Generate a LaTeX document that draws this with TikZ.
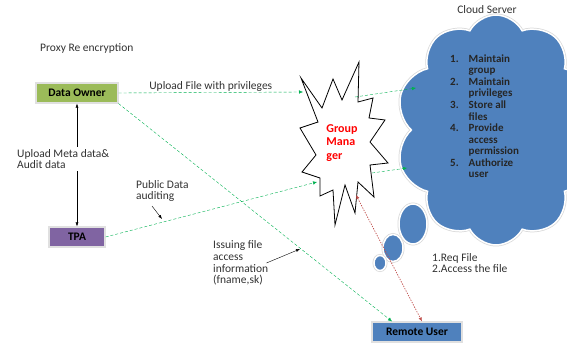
\documentclass[tikz,border=0pt]{standalone}
\usepackage{fontspec}
\setmainfont{Carlito}
\usetikzlibrary{arrows.meta, positioning, shapes.symbols, shapes.geometric, shadows}
\definecolor{ownergreen}{RGB}{155,187,89}
\definecolor{tpapurple}{RGB}{128,100,162}
\definecolor{officeblue}{RGB}{79,129,189}
\definecolor{flowgreen}{RGB}{0,176,80}
\definecolor{reqred}{RGB}{192,80,77}
\definecolor{notegray}{RGB}{50,50,50}

\begin{document}
\begin{tikzpicture}[x=1pt, y=-1pt,
    every node/.style={font=\fontsize{11.5}{11.7}\selectfont, text=notegray},
    actor/.style={draw=black!12, line width=1.2pt, minimum height=20pt, inner sep=0pt,
                  font=\fontsize{11.5}{12}\selectfont\bfseries, text=black,
                  drop shadow={shadow xshift=1pt, shadow yshift=-1pt, fill=black!15}},
    note/.style={align=left, anchor=west, inner sep=0pt},
    flow/.style={draw=flowgreen, dash pattern=on 3pt off 2pt, -{Latex[length=4pt,width=3.5pt]}},
    request/.style={draw=reqred, line width=0.7pt, dash pattern=on 1.3pt off 1.3pt,
                    {Latex[length=4pt,width=3.5pt]}-{Latex[length=4pt,width=3.5pt]}},
    pointer/.style={draw=black, -{Latex[length=4pt,width=3pt]}},
    bubble/.style={ellipse, fill=officeblue, draw=white, line width=1.5pt,
                   preaction={draw=black!15, line width=3pt}, inner sep=0pt}
]
    \useasboundingbox (0,0) rectangle (567,344);

    % cloud server
    \node[cloud, cloud puffs=10, cloud puff arc=125, fill=officeblue, draw=white, line width=1.5pt,
          preaction={draw=black!15, line width=3pt}, minimum width=200pt, minimum height=230pt]
          (server) at (496,130) {};
    \node[bubble, minimum width=28pt, minimum height=40pt] (bubbleA) at (413,224) {};
    \node[bubble, minimum width=20pt, minimum height=27pt] (bubbleB) at (393,248) {};
    \node[bubble, minimum width=12pt, minimum height=15pt] (bubbleC) at (380,263) {};
    \node[anchor=north west, inner sep=0pt, font=\fontsize{11}{11.55}\selectfont\bfseries, text=black!85]
          (srvlist) at (450,54) {\begin{tabular}{@{}l@{\hspace{10pt}}l@{}}
            1. & Maintain\\ & group\\
            2. & Maintain\\ & privileges\\
            3. & Store all\\ & files\\
            4. & Provide\\ & access\\ & permission\\
            5. & Authorize\\ & user
          \end{tabular}};
    \node (srvname) at (487,10) {Cloud Server};

    % group manager
    \draw[black, line width=0.8pt, fill=white] (301,78) -- (322,108) -- (333,79) -- (342,100)
        -- (359,62) -- (358,102) -- (373,98) -- (369,118) -- (385,120) -- (370,142)
        -- (388,163) -- (370,165) -- (374,197) -- (358,182) -- (355,213) -- (345,185)
        -- (335,225) -- (333,190) -- (320,196) -- (320,178) -- (302,172) -- (316,155)
        -- (300,128) -- (318,122) -- cycle;
    \node[align=left, font=\fontsize{12}{13.5}\selectfont\bfseries, text=red] (gm) at (342,143) {Group\\Mana\\ger};
    \coordinate (gmW) at (303,92);
    \coordinate (gmNE) at (355,97);
    \coordinate (gmSW) at (317,182);
    \coordinate (gmSE) at (372,173);
    \coordinate (gmS) at (356,195);
    \coordinate (srvW) at (416,88);
    \coordinate (srvSW) at (407,168);

    % actors
    \node[actor, fill=ownergreen, minimum width=82pt] (owner) at (77,93) {Data Owner};
    \node[actor, fill=tpapurple, minimum width=56pt] (tpa) at (77,237) {TPA};
    \node[actor, fill=officeblue, minimum width=90pt] (remote) at (417,332) {Remote User};

    \node[note] (proxy) at (40,48) {Proxy Re encryption};

    % flows
    \draw[flow] (owner.east) -- (gmW) node[midway, above=1pt, inner sep=0pt] (uploadlbl) {Upload File with privileges};
    \draw[flow] (gmNE) -- (srvW);
    \draw[flow] (tpa.east) -- (gmSW);
    \draw[flow] (gmSE) -- (srvSW);
    \draw[flow] (owner.south east) -- ([xshift=-25pt]remote.north);
    \draw[request] (gmS) -- ([xshift=5pt]remote.north);

    \draw[{Latex[length=4pt,width=3pt]}-{Latex[length=4pt,width=3pt]}] (owner) -- (tpa);
    \node[note, fill=white, inner sep=2pt] (metalbl) at (15,159) {Upload Meta data\&\\Audit data};

    \node[note] (pubnote) at (136,191) {Public Data\\auditing};
    \coordinate (pubtip) at (162,219);
    \draw[pointer] ([xshift=16pt,yshift=-4pt]pubnote.south west) -- (pubtip);

    \node[note] (issnote) at (213,263) {Issuing file\\access\\information\\(fname,sk)};
    \coordinate (isstip) at (300,249);
    \draw[pointer] ([xshift=-2pt]issnote.east) -- (isstip);

    \node[note] (reqnote) at (432,263) {1.Req File\\2.Access the file};
\end{tikzpicture}
\end{document}
